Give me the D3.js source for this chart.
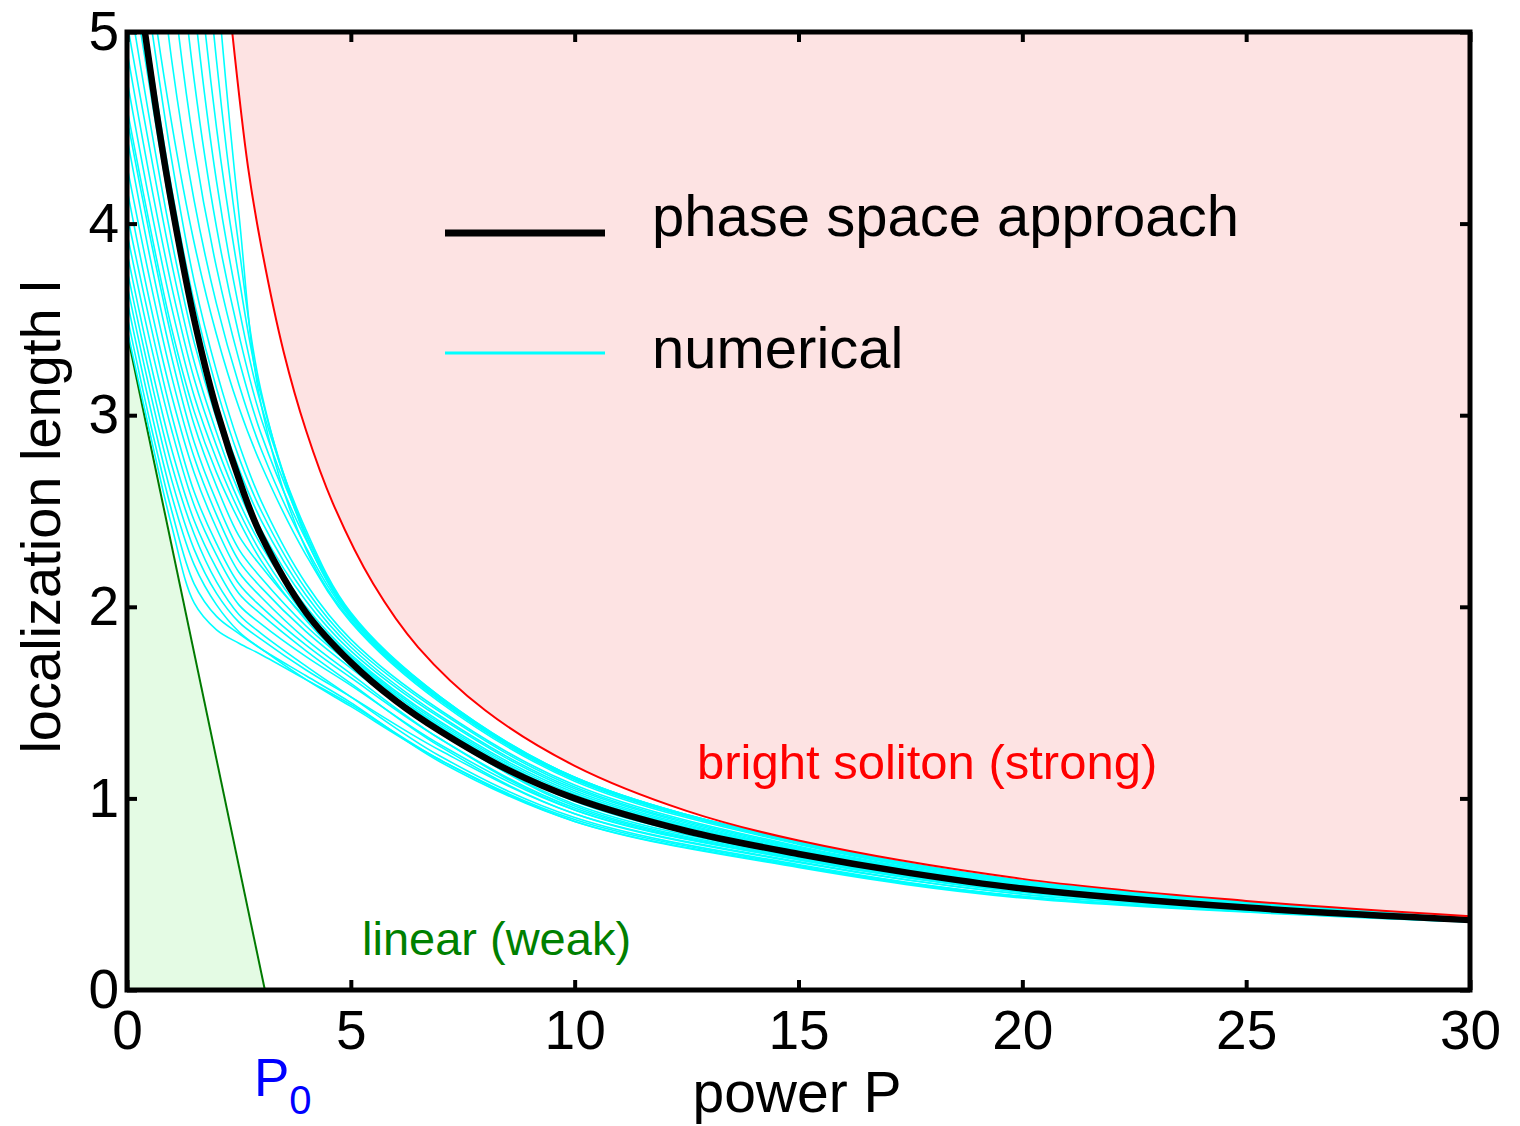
<!DOCTYPE html>
<html>
<head>
<meta charset="utf-8">
<script src="https://cdn.jsdelivr.net/npm/d3@7"></script>
<style>
  body { margin: 0; background: #fff; }
  svg { display: block; }
  text { font-family: "Liberation Sans", Arial, sans-serif; }
</style>
</head>
<body>
<svg id="chart" width="1520" height="1126"></svg>
<script>
// tick labels
const xTicks = [0, 5, 10, 15, 20, 25, 30];
const yTicks = [0, 1, 2, 3, 4, 5];

// phase space approach (black)
const blackP = [0.4, 0.7, 1.0, 1.5, 2.0, 2.6, 3.0, 4.0, 5.0, 6.0, 7.0, 8.5, 10, 12.5, 15, 17.5, 20, 25, 30];
const blackL = [5.0, 4.52, 4.1, 3.5, 3.03, 2.6, 2.37, 1.97, 1.71, 1.51, 1.35, 1.15, 1.0, 0.83, 0.71, 0.61, 0.53, 0.43, 0.365];

// bright soliton boundary (red)
const redP = [2.35, 2.7, 3.0, 3.5, 4.0, 4.6, 5.5, 6.5, 8, 10, 12.5, 15, 20, 25, 30];
const redL = [5.0, 4.3, 3.88, 3.33, 2.92, 2.54, 2.12, 1.79, 1.46, 1.17, 0.935, 0.78, 0.58, 0.465, 0.385];

// linear boundary (green)
const greenP = [0, 3.08];
const greenL = [3.43, 0];

// numerical curves (cyan), l sampled at these powers
const cyanP = [0, 0.5, 1, 1.5, 2, 2.5, 3, 4, 5, 7, 10, 15, 20, 30];
const cyanL = [
  [3.45, 2.92, 2.42, 2.02, 1.88, 1.81, 1.75, 1.62, 1.49, 1.2, 0.88, 0.64, 0.48, 0.355],
  [3.52, 2.98, 2.5, 2.12, 1.95, 1.86, 1.78, 1.64, 1.5, 1.19, 0.88, 0.645, 0.485, 0.356],
  [3.6, 3.06, 2.58, 2.22, 2.01, 1.87, 1.78, 1.62, 1.48, 1.2, 0.89, 0.65, 0.487, 0.356],
  [3.68, 3.14, 2.66, 2.3, 2.07, 1.92, 1.83, 1.67, 1.53, 1.25, 0.92, 0.67, 0.5, 0.36],
  [3.76, 3.22, 2.74, 2.38, 2.13, 1.96, 1.86, 1.69, 1.53, 1.22, 0.9, 0.655, 0.49, 0.357],
  [3.85, 3.3, 2.82, 2.45, 2.2, 2.01, 1.91, 1.74, 1.59, 1.28, 0.94, 0.68, 0.51, 0.361],
  [3.95, 3.4, 2.92, 2.53, 2.27, 2.07, 1.96, 1.77, 1.6, 1.27, 0.92, 0.665, 0.5, 0.359],
  [4.05, 3.5, 3.0, 2.6, 2.33, 2.12, 2.0, 1.8, 1.63, 1.31, 0.95, 0.685, 0.515, 0.362],
  [4.18, 3.6, 3.1, 2.7, 2.41, 2.18, 2.05, 1.83, 1.65, 1.31, 0.94, 0.68, 0.51, 0.361],
  [4.3, 3.72, 3.2, 2.78, 2.48, 2.24, 2.1, 1.87, 1.68, 1.34, 0.97, 0.695, 0.52, 0.363],
  [4.45, 3.84, 3.3, 2.86, 2.55, 2.3, 2.15, 1.9, 1.7, 1.35, 0.96, 0.69, 0.515, 0.362],
  [4.55, 3.95, 3.4, 2.95, 2.63, 2.37, 2.21, 1.94, 1.73, 1.37, 0.985, 0.705, 0.525, 0.364],
  [4.6, 4.0, 3.45, 3.02, 2.7, 2.45, 2.24, 1.93, 1.7, 1.37, 1.0, 0.715, 0.525, 0.365],
  [4.75, 4.12, 3.56, 3.1, 2.77, 2.5, 2.28, 1.95, 1.72, 1.38, 1.01, 0.72, 0.53, 0.366],
  [4.9, 4.25, 3.67, 3.19, 2.84, 2.55, 2.32, 1.98, 1.74, 1.39, 1.02, 0.725, 0.535, 0.367],
  [5.05, 4.4, 3.79, 3.28, 2.91, 2.6, 2.36, 2.0, 1.75, 1.4, 1.03, 0.73, 0.54, 0.368],
  [5.25, 4.55, 3.91, 3.38, 2.98, 2.66, 2.4, 2.03, 1.77, 1.42, 1.04, 0.735, 0.545, 0.369],
  [5.45, 4.72, 4.04, 3.48, 3.06, 2.72, 2.45, 2.06, 1.79, 1.43, 1.05, 0.74, 0.55, 0.37],
  [5.65, 4.9, 4.18, 3.59, 3.14, 2.78, 2.5, 2.09, 1.81, 1.45, 1.06, 0.745, 0.55, 0.37],
  [5.9, 5.1, 4.33, 3.7, 3.23, 2.85, 2.55, 2.12, 1.83, 1.46, 1.07, 0.75, 0.555, 0.371],
  [6.4, 5.3, 4.52, 3.9, 3.42, 3.04, 2.74, 2.27, 1.92, 1.5, 1.09, 0.76, 0.56, 0.373],
  [7.2, 5.9, 4.85, 4.12, 3.58, 3.16, 2.82, 2.31, 1.94, 1.51, 1.1, 0.765, 0.562, 0.374],
  [8.2, 6.6, 5.3, 4.4, 3.77, 3.29, 2.9, 2.35, 1.95, 1.52, 1.1, 0.768, 0.565, 0.375],
  [9.5, 7.4, 5.85, 4.75, 3.98, 3.42, 2.98, 2.38, 1.96, 1.52, 1.11, 0.77, 0.566, 0.376],
  [11, 8.4, 6.5, 5.15, 4.22, 3.56, 3.05, 2.4, 1.97, 1.53, 1.11, 0.772, 0.568, 0.377],
  [12.5, 9.5, 7.3, 5.6, 4.5, 3.72, 3.1, 2.38, 1.96, 1.53, 1.11, 0.774, 0.57, 0.378],
  [14, 10.8, 8.2, 6.2, 4.85, 3.88, 3.12, 2.36, 1.95, 1.52, 1.1, 0.775, 0.57, 0.378],
  [16, 12.5, 9.4, 7.0, 5.3, 4.05, 3.05, 2.3, 1.93, 1.51, 1.1, 0.775, 0.57, 0.378]
];

const W = 1520, H = 1126;
const margin = { left: 127, top: 32, right: 50, bottom: 136 };
const innerW = W - margin.left - margin.right;
const innerH = H - margin.top - margin.bottom;

const svg = d3.select('#chart');
const x = d3.scaleLinear().domain([0, 30]).range([margin.left, margin.left + innerW]);
const y = d3.scaleLinear().domain([0, 5]).range([margin.top + innerH, margin.top]);

svg.append('clipPath').attr('id', 'plot-clip')
  .append('rect')
  .attr('x', margin.left).attr('y', margin.top)
  .attr('width', innerW).attr('height', innerH);

const plot = svg.append('g').attr('clip-path', 'url(#plot-clip)');

const zip = (ps, ls) => ps.map((p, i) => [p, ls[i]]);
const smooth = d3.curveCatmullRom.alpha(0.5);
const line = d3.line().x(d => x(d[0])).y(d => y(d[1])).curve(smooth);

// shaded regions
plot.append('path')
  .datum(zip(redP, redL))
  .attr('d', d3.area().x(d => x(d[0])).y0(y(5)).y1(d => y(d[1])).curve(smooth))
  .style('fill', '#fde3e3');

plot.append('path')
  .datum(zip(greenP, greenL))
  .attr('d', d3.area().x(d => x(d[0])).y0(y(0)).y1(d => y(d[1])))
  .style('fill', '#e4fbe4');

plot.append('path')
  .datum(zip(greenP, greenL))
  .attr('d', d3.line().x(d => x(d[0])).y(d => y(d[1])))
  .style('fill', 'none')
  .style('stroke', '#007a00')
  .style('stroke-width', 2);

// numerical curves
plot.selectAll('.cyan')
  .data(cyanL)
  .enter()
  .append('path')
  .attr('class', 'cyan')
  .attr('d', ls => line(zip(cyanP, ls)))
  .style('fill', 'none')
  .style('stroke', '#00ffff')
  .style('stroke-width', 1.6);

plot.append('path')
  .datum(zip(blackP, blackL))
  .attr('d', line)
  .style('fill', 'none')
  .style('stroke', '#000')
  .style('stroke-width', 6.5);

plot.append('path')
  .datum(zip(redP, redL))
  .attr('d', line)
  .style('fill', 'none')
  .style('stroke', '#ff0000')
  .style('stroke-width', 2);

// axes, ticks point inward
const styleAxis = (g, fontSize) => {
  g.select('.domain').remove();
  g.selectAll('.tick line').style('stroke', '#000').style('stroke-width', 4);
  g.selectAll('.tick text').style('font-size', fontSize + 'px').style('fill', '#000')
    .style('font-family', '"Liberation Sans", Arial, sans-serif');
};

svg.append('g')
  .attr('transform', `translate(0,${y(0)})`)
  .call(d3.axisBottom(x).tickValues(xTicks).tickSize(-10).tickPadding(20).tickFormat(d3.format('d')))
  .call(g => styleAxis(g, 55));

svg.append('g')
  .attr('transform', `translate(0,${y(5)})`)
  .call(d3.axisTop(x).tickValues(xTicks).tickSize(-10).tickFormat(''))
  .call(g => styleAxis(g, 55));

svg.append('g')
  .attr('transform', `translate(${x(0)},0)`)
  .call(d3.axisLeft(y).tickValues(yTicks).tickSize(-10).tickPadding(8).tickFormat(d3.format('d')))
  .call(g => styleAxis(g, 55));

svg.append('g')
  .attr('transform', `translate(${x(30)},0)`)
  .call(d3.axisRight(y).tickValues(yTicks).tickSize(-10).tickFormat(''))
  .call(g => styleAxis(g, 55));

svg.append('rect')
  .attr('x', x(0)).attr('y', y(5))
  .attr('width', x(30) - x(0)).attr('height', y(0) - y(5))
  .style('fill', 'none')
  .style('stroke', '#000')
  .style('stroke-width', 5);

// axis titles
svg.append('text')
  .attr('x', 797).attr('y', 1112)
  .attr('text-anchor', 'middle')
  .style('font-size', '57px')
  .text('power P');

svg.append('text')
  .attr('transform', `translate(60,${(y(0) + y(5)) / 2 + 6}) rotate(-90)`)
  .attr('text-anchor', 'middle')
  .style('font-size', '56px')
  .text('localization length l');

// P0 marker
const p0 = svg.append('text')
  .attr('x', x(greenP[1]) - 11).attr('y', 1096)
  .style('font-size', '53px')
  .style('fill', '#0000ff');
p0.append('tspan').text('P');
p0.append('tspan').attr('dy', 18).style('font-size', '40px').text('0');

// region labels
svg.append('text')
  .attr('x', 362).attr('y', 955)
  .style('font-size', '47px')
  .style('fill', '#008000')
  .text('linear (weak)');

svg.append('text')
  .attr('x', 697).attr('y', 779)
  .style('font-size', '49px')
  .style('fill', '#ff0000')
  .text('bright soliton (strong)');

// legend
const legend = [
  { label: 'phase space approach', color: '#000', width: 7, y: 233, ty: 236 },
  { label: 'numerical', color: '#00ffff', width: 3, y: 353, ty: 368 }
];
const lg = svg.append('g');
lg.selectAll('line')
  .data(legend)
  .enter()
  .append('line')
  .attr('x1', 445).attr('x2', 605)
  .attr('y1', d => d.y).attr('y2', d => d.y)
  .style('stroke', d => d.color)
  .style('stroke-width', d => d.width);
lg.selectAll('text')
  .data(legend)
  .enter()
  .append('text')
  .attr('x', 652).attr('y', d => d.ty)
  .style('font-size', '58px')
  .text(d => d.label);
</script>
</body>
</html>
